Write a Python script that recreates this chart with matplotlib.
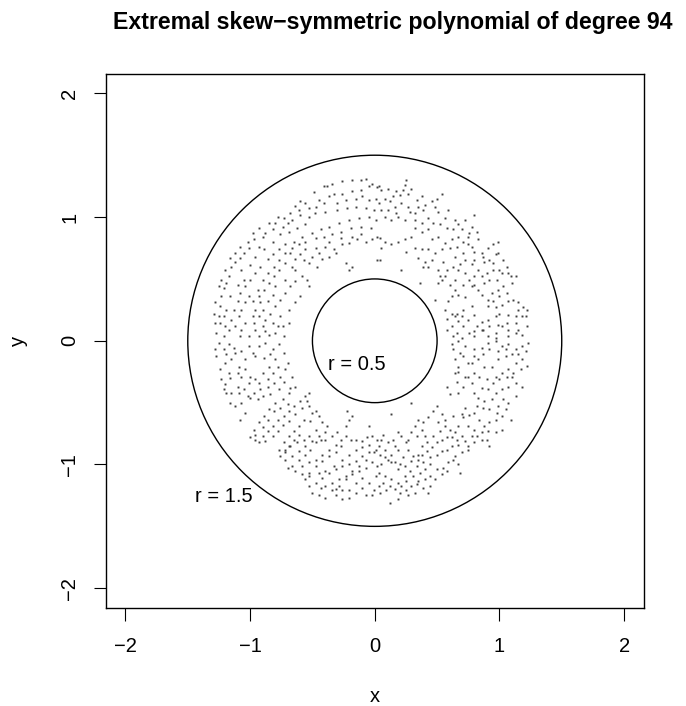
import numpy as np
import matplotlib
matplotlib.use("Agg")
import matplotlib.pyplot as plt
import matplotlib.patches as patches

plt.rcParams['font.family'] = ['Liberation Sans', 'DejaVu Sans']

# roots, one list per quadrant (x, y)
roots_nw = [
    (-0.41, 1.25), (-0.38, 1.25), (-0.34, 1.27), (-0.26, 1.29), (-0.18, 1.30), (-0.11, 1.30),
    (-0.07, 1.31), (-0.02, 1.27), (0.02, 1.24), (-0.33, 1.19), (-0.37, 1.17), (-0.45, 1.14),
    (-0.49, 1.20), (-0.56, 1.11), (-0.60, 1.13), (-0.64, 1.09), (-0.30, 1.11), (-0.23, 1.14),
    (-0.15, 1.15), (-0.10, 1.17), (-0.05, 1.14), (0.01, 1.15), (-0.22, 1.07), (-0.15, 1.08),
    (-0.07, 1.07), (-0.01, 1.06), (-0.30, 1.06), (-0.40, 1.04), (-0.48, 1.03), (-0.53, 1.00),
    (-0.60, 1.02), (-0.66, 0.98), (-0.70, 0.95), (-0.74, 0.92), (-0.80, 0.95), (-0.82, 0.90),
    (-0.88, 0.87), (-0.90, 0.84), (-0.97, 0.82), (-0.93, 0.76), (-1.01, 0.75), (-1.05, 0.71),
    (-1.08, 0.67), (-1.12, 0.64), (-1.15, 0.60), (-1.17, 0.52), (-1.19, 0.47), (-1.21, 0.43),
    (-1.23, 0.36), (-1.24, 0.28), (-1.25, 0.20), (-1.24, 0.14), (-1.27, 0.06), (-1.21, 0.04),
    (-1.17, 0.09), (-1.15, 0.17), (-1.13, 0.25), (-1.10, 0.32), (-1.08, 0.39), (-1.04, 0.44),
    (-1.00, 0.49), (-0.96, 0.55), (-0.92, 0.60), (-0.86, 0.66), (-0.82, 0.70), (-0.77, 0.74),
    (-0.72, 0.78), (-0.65, 0.80), (-0.58, 0.84), (-0.50, 0.87), (-0.43, 0.90), (-0.37, 0.92),
    (-0.29, 0.95), (-0.21, 0.98), (-0.13, 0.99), (-0.05, 1.00), (0.01, 0.98), (0.02, 0.84),
    (-0.02, 0.82), (-0.07, 0.80), (-0.14, 0.82), (-0.21, 0.79), (-0.26, 0.78), (-0.33, 0.74),
    (-0.40, 0.76), (-0.45, 0.71), (-0.50, 0.68), (-0.53, 0.63), (-0.46, 0.60), (-0.42, 0.66),
    (-0.37, 0.68), (-0.31, 0.71), (-0.23, 0.63), (-0.21, 0.57), (-0.18, 0.60), (-0.68, 0.71),
    (-0.64, 0.66), (-0.72, 0.63), (-0.77, 0.57), (-0.81, 0.52), (-0.85, 0.47), (-0.89, 0.41),
    (-0.93, 0.36), (-0.92, 0.31), (-0.96, 0.25), (-0.98, 0.20), (-1.04, 0.14), (-1.07, 0.09),
    (-1.08, 0.04), (-1.01, 0.04), (-0.96, 0.09), (-0.90, 0.12), (-0.88, 0.17), (-0.84, 0.22),
    (-0.80, 0.28), (-0.76, 0.33), (-0.72, 0.39), (-0.68, 0.44), (-0.64, 0.48), (-0.58, 0.52),
    (-0.54, 0.49), (-0.53, 0.44), (-0.76, 0.20), (-0.74, 0.12), (-0.73, 0.04), (-0.80, 0.06),
    (-0.85, 0.05), (-0.93, 0.04), (-1.01, 0.36), (-1.05, 0.49), (-1.10, 0.45), (-1.16, 0.36),
    (-1.19, 0.25), (-1.07, 0.57), (-1.00, 0.61), (-0.96, 0.68), (-0.89, 0.74), (-0.82, 0.80),
    (-0.76, 0.86), (-0.69, 0.88), (-0.62, 0.91), (-0.56, 0.94), (0.02, 0.65),
    (-0.05, 1.25), (-0.11, 1.22), (-0.18, 1.21), (-0.26, 1.19), (-0.41, 1.11), (-0.47, 1.08),
    (-0.53, 1.07), (-0.61, 1.06), (-0.68, 1.03), (-0.73, 0.99), (-0.78, 1.00), (-0.85, 0.95),
    (-0.93, 0.91), (-0.98, 0.87), (-1.02, 0.80), (-1.08, 0.76), (-1.12, 0.71), (-1.16, 0.67),
    (-1.20, 0.57), (-1.23, 0.49), (-1.25, 0.44), (-1.28, 0.31), (-1.29, 0.22), (-1.28, 0.14),
    (-1.21, 0.20), (-1.20, 0.12), (-1.12, 0.12), (-1.09, 0.20), (-1.07, 0.25), (-1.04, 0.31),
    (-0.98, 0.32), (-0.94, 0.41), (-0.90, 0.49), (-0.86, 0.55), (-0.81, 0.60), (-0.77, 0.65),
    (-0.72, 0.71), (-0.66, 0.75), (-0.61, 0.78), (-0.56, 0.80), (-0.47, 0.83), (-0.41, 0.84),
    (-0.34, 0.86), (-0.27, 0.88), (-0.19, 0.91), (-0.11, 0.92), (-0.03, 0.91), (-0.11, 0.86),
    (-0.18, 0.84), (-0.27, 0.83), (-0.37, 0.80), (-0.47, 0.75), (-0.56, 0.74), (-0.60, 0.70),
    (-0.57, 0.65), (-0.66, 0.60), (-0.64, 0.57), (-0.72, 0.49), (-0.80, 0.44), (-0.82, 0.37),
    (-0.86, 0.32), (-0.90, 0.25), (-0.93, 0.20), (-0.97, 0.14), (-0.82, 0.14), (-0.78, 0.12),
    (-0.88, 0.08), (-0.69, 0.14), (-0.69, 0.25), (-0.64, 0.31), (-0.60, 0.36),
]

roots_ne = [
    (0.03, 1.25), (0.05, 1.22), (0.11, 1.23), (0.15, 1.17), (0.20, 1.18), (0.24, 1.26),
    (0.25, 1.30), (0.27, 1.19), (0.21, 1.11), (0.16, 1.08), (0.11, 1.06), (0.05, 1.06),
    (0.03, 1.11), (0.08, 1.00), (0.13, 0.98), (0.19, 1.00), (0.24, 0.98), (0.28, 1.04),
    (0.32, 1.03), (0.35, 1.08), (0.40, 1.10), (0.38, 1.17), (0.43, 0.99), (0.48, 1.08),
    (0.51, 1.04), (0.54, 1.19), (0.56, 0.99), (0.59, 1.06), (0.64, 0.98), (0.70, 0.90),
    (0.78, 0.92), (0.80, 1.02), (0.75, 0.84), (0.67, 0.84), (0.62, 0.82), (0.56, 0.79),
    (0.51, 0.84), (0.46, 0.82), (0.43, 0.90), (0.38, 0.88), (0.32, 0.91), (0.29, 0.84),
    (0.24, 0.82), (0.19, 0.80), (0.13, 0.78), (0.08, 0.80), (0.04, 0.83), (0.05, 0.75),
    (0.25, 0.72), (0.32, 0.75), (0.38, 0.74), (0.43, 0.74), (0.48, 0.71), (0.35, 0.67),
    (0.40, 0.64), (0.46, 0.65), (0.39, 0.60), (0.43, 0.60), (0.54, 0.74), (0.64, 0.68),
    (0.71, 0.71), (0.78, 0.76), (0.83, 0.82), (0.86, 0.71), (0.91, 0.75), (0.95, 0.78),
    (0.99, 0.80), (0.97, 0.70), (0.95, 0.63), (0.88, 0.64), (0.80, 0.65), (0.78, 0.62),
    (0.83, 0.57), (0.86, 0.52), (0.80, 0.52), (0.72, 0.55), (0.67, 0.57), (0.58, 0.57),
    (0.52, 0.52), (0.51, 0.47), (0.54, 0.49), (0.60, 0.45), (0.64, 0.41), (0.62, 0.36),
    (0.59, 0.32), (0.67, 0.37), (0.72, 0.35), (0.78, 0.44), (0.83, 0.41), (0.88, 0.47),
    (0.92, 0.49), (0.98, 0.49), (1.02, 0.55), (1.07, 0.55), (1.13, 0.52), (1.10, 0.47),
    (1.03, 0.44), (0.99, 0.41), (0.94, 0.39), (0.91, 0.33), (0.95, 0.32), (1.00, 0.36),
    (1.06, 0.39), (1.11, 0.33), (1.15, 0.31), (1.19, 0.27), (1.22, 0.25), (1.18, 0.20),
    (1.13, 0.20), (1.07, 0.21), (1.00, 0.22), (0.97, 0.20), (0.91, 0.17), (0.86, 0.15),
    (0.80, 0.21), (0.78, 0.28), (0.71, 0.25), (0.66, 0.22), (0.67, 0.16), (0.62, 0.12),
    (0.66, 0.06), (0.71, 0.12), (0.76, 0.06), (0.80, 0.08), (0.86, 0.09), (0.91, 0.04),
    (0.97, 0.06), (1.02, 0.12), (1.07, 0.09), (1.13, 0.06), (1.18, 0.05), (1.22, 0.12),
    (0.64, 0.20), (0.56, 0.25), (0.48, 0.33), (0.36, 0.47), (0.21, 0.57), (0.04, 0.65),
    (0.08, 1.15), (0.12, 1.13), (0.17, 1.21), (0.23, 1.22), (0.29, 1.23), (0.34, 1.14),
    (0.39, 1.06), (0.46, 1.13), (0.50, 1.15), (0.17, 1.03), (0.27, 1.08), (0.32, 0.98),
    (0.38, 0.95), (0.47, 0.95), (0.52, 0.94), (0.58, 0.91), (0.63, 0.90), (0.67, 0.94),
    (0.72, 0.98), (0.76, 0.87), (0.82, 0.88), (0.60, 0.75), (0.66, 0.76), (0.71, 0.80),
    (0.75, 0.78), (0.80, 0.72), (0.87, 0.68), (0.92, 0.65), (0.99, 0.71), (1.03, 0.65),
    (1.06, 0.60), (1.09, 0.52), (0.90, 0.55), (0.95, 0.57), (1.00, 0.57), (0.72, 0.65),
    (0.68, 0.62), (0.63, 0.60), (0.55, 0.64), (0.51, 0.57), (0.56, 0.52), (0.64, 0.49),
    (0.71, 0.45), (0.76, 0.49), (0.80, 0.45), (0.86, 0.37), (0.91, 0.28), (0.97, 0.27),
    (1.02, 0.29), (1.07, 0.32), (1.15, 0.25), (1.21, 0.20), (1.13, 0.14), (1.06, 0.14),
    (0.99, 0.13), (0.92, 0.12), (0.87, 0.09), (0.82, 0.12), (0.75, 0.17), (0.70, 0.20),
    (0.62, 0.22), (0.58, 0.18), (0.58, 0.09), (0.63, 0.04), (0.70, 0.02), (0.80, 0.04),
    (0.97, 0.02), (1.07, 0.04), (1.15, 0.09),
]

roots_sw = [
    (-1.25, -0.02), (-1.21, -0.07), (-1.17, -0.03), (-1.12, -0.10), (-1.15, -0.15), (-1.20, -0.18),
    (-1.24, -0.23), (-1.23, -0.31), (-1.17, -0.26), (-1.09, -0.21), (-1.04, -0.15), (-0.98, -0.10),
    (-0.93, -0.04), (-0.88, -0.02), (-0.82, -0.07), (-0.77, -0.03), (-0.73, -0.10), (-0.80, -0.15),
    (-0.85, -0.21), (-0.90, -0.26), (-0.96, -0.31), (-1.01, -0.34), (-1.07, -0.29), (-1.10, -0.37),
    (-1.15, -0.42), (-1.16, -0.50), (-1.12, -0.53), (-1.07, -0.50), (-1.02, -0.45), (-0.97, -0.42),
    (-0.92, -0.39), (-0.86, -0.37), (-0.81, -0.34), (-0.76, -0.29), (-0.72, -0.23), (-0.70, -0.18),
    (-0.66, -0.29), (-0.64, -0.37), (-0.69, -0.42), (-0.74, -0.47), (-0.80, -0.50), (-0.85, -0.55),
    (-0.89, -0.61), (-0.93, -0.66), (-0.97, -0.72), (-1.00, -0.78), (-0.96, -0.80), (-0.90, -0.77),
    (-0.86, -0.73), (-0.82, -0.69), (-0.78, -0.64), (-0.73, -0.61), (-0.69, -0.57), (-0.65, -0.53),
    (-0.60, -0.49), (-0.56, -0.45), (-0.53, -0.42), (-0.53, -0.53), (-0.50, -0.58), (-0.47, -0.57),
    (-0.45, -0.61), (-0.52, -0.65), (-0.57, -0.64), (-0.61, -0.69), (-0.65, -0.73), (-0.69, -0.77),
    (-0.73, -0.82), (-0.77, -0.88), (-0.76, -0.93), (-0.72, -0.90), (-0.68, -0.85), (-0.62, -0.82),
    (-0.57, -0.80), (-0.53, -0.77), (-0.47, -0.72), (-0.42, -0.66), (-0.38, -0.69), (-0.40, -0.74),
    (-0.43, -0.80), (-0.47, -0.82), (-0.52, -0.88), (-0.56, -0.92), (-0.61, -0.96), (-0.66, -1.01),
    (-0.70, -1.03), (-0.64, -1.05), (-0.58, -1.01), (-0.53, -0.98), (-0.47, -0.96), (-0.42, -0.92),
    (-0.37, -0.88), (-0.31, -0.84), (-0.27, -0.80), (-0.23, -0.77), (-0.19, -0.80), (-0.15, -0.80),
    (-0.10, -0.81), (-0.06, -0.78), (-0.02, -0.77), (0.02, -0.80), (0.01, -0.88), (-0.05, -0.90),
    (-0.10, -0.93), (-0.15, -0.97), (-0.21, -1.00), (-0.26, -1.01), (-0.31, -1.04), (-0.37, -1.07),
    (-0.42, -1.11), (-0.47, -1.15), (-0.53, -1.17), (-0.50, -1.23), (-0.45, -1.25), (-0.40, -1.27),
    (-0.34, -1.21), (-0.29, -1.17), (-0.23, -1.12), (-0.18, -1.08), (-0.13, -1.05), (-0.07, -1.03),
    (-0.02, -0.98), (0.02, -1.01), (0.01, -1.09), (-0.05, -1.15), (-0.10, -1.19), (-0.15, -1.23),
    (-0.21, -1.27), (-0.26, -1.28), (-0.31, -1.25), (-0.01, -1.21), (-0.02, -1.25), (-0.22, -0.57),
    (-0.21, -0.64), (-0.23, -0.69), (-0.18, -0.61), (-0.05, -0.69), (-1.04, -0.58), (-1.08, -0.64),
    (-1.28, -0.07), (-1.27, -0.12), (-1.19, -0.11), (-1.13, -0.06), (-1.07, -0.08), (-1.01, -0.04),
    (-0.96, -0.12), (-0.89, -0.14), (-0.84, -0.11), (-0.78, -0.21), (-0.82, -0.26), (-0.86, -0.31),
    (-0.93, -0.34), (-1.00, -0.29), (-1.04, -0.23), (-1.10, -0.26), (-1.16, -0.30), (-1.20, -0.35),
    (-1.19, -0.42), (-1.21, -0.39), (-1.09, -0.42), (-1.05, -0.39), (-1.00, -0.46), (-0.94, -0.47),
    (-0.90, -0.45), (-0.84, -0.43), (-0.77, -0.39), (-0.73, -0.33), (-0.68, -0.38), (-0.70, -0.51),
    (-0.76, -0.54), (-0.81, -0.57), (-0.86, -0.64), (-0.90, -0.70), (-0.96, -0.76), (-0.93, -0.82),
    (-0.88, -0.81), (-0.82, -0.77), (-0.78, -0.73), (-0.74, -0.68), (-0.69, -0.65), (-0.64, -0.59),
    (-0.58, -0.54), (-0.54, -0.49), (-0.61, -0.76), (-0.65, -0.80), (-0.69, -0.85), (-0.72, -0.88),
    (-0.72, -0.96), (-0.66, -0.93), (-0.61, -0.89), (-0.56, -0.85), (-0.50, -0.81), (-0.45, -0.77),
    (-0.40, -0.80), (-0.34, -0.77), (-0.30, -0.74), (-0.27, -0.85), (-0.31, -0.90), (-0.37, -0.93),
    (-0.42, -0.97), (-0.47, -1.01), (-0.53, -1.07), (-0.58, -1.08), (-0.56, -1.12), (-0.45, -1.07),
    (-0.40, -1.05), (-0.33, -1.01), (-0.26, -0.96), (-0.21, -0.92), (-0.15, -0.88), (-0.10, -0.86),
    (-0.05, -0.84), (-0.01, -0.90), (-0.07, -0.96), (-0.13, -1.01), (-0.18, -1.05), (-0.23, -1.09),
    (-0.29, -1.12), (-0.34, -1.15), (-0.40, -1.17), (-0.43, -1.19), (-0.10, -1.11), (-0.15, -1.15),
    (-0.21, -1.21), (-0.07, -1.25), (-0.26, -1.21), (-0.31, -1.20), (-0.53, -1.09),
]

roots_se = [
    (0.62, -0.03), (0.67, 0.00), (0.72, -0.04), (0.68, -0.10), (0.64, -0.15), (0.67, -0.21),
    (0.64, -0.26), (0.66, -0.33), (0.72, -0.29), (0.80, -0.07), (0.86, -0.06), (0.91, -0.02),
    (0.97, 0.00), (1.02, -0.04), (1.07, -0.03), (1.13, -0.07), (1.18, -0.04), (1.23, -0.02),
    (1.18, -0.15), (1.13, -0.18), (1.07, -0.23), (1.02, -0.26), (0.97, -0.29), (0.94, -0.21),
    (0.99, -0.15), (1.05, -0.12), (1.10, -0.29), (1.13, -0.34), (1.18, -0.37), (1.07, -0.37),
    (1.02, -0.39), (0.97, -0.42), (0.91, -0.39), (0.86, -0.38), (0.80, -0.42), (0.75, -0.29),
    (0.78, -0.18), (0.83, -0.15), (0.88, -0.21), (0.58, -0.37), (0.60, -0.43), (0.67, -0.42),
    (0.83, -0.46), (0.88, -0.49), (0.94, -0.47), (0.99, -0.53), (1.05, -0.55), (1.09, -0.64),
    (1.02, -0.61), (0.97, -0.64), (0.92, -0.66), (0.88, -0.69), (0.84, -0.64), (0.80, -0.58),
    (0.76, -0.60), (0.72, -0.54), (0.71, -0.62), (0.67, -0.69), (0.64, -0.74), (0.60, -0.72),
    (0.56, -0.69), (0.52, -0.73), (0.54, -0.59), (0.50, -0.53), (0.47, -0.57), (0.43, -0.62),
    (0.39, -0.66), (0.35, -0.64), (0.32, -0.69), (0.29, -0.74), (0.34, -0.77), (0.38, -0.72),
    (0.40, -0.77), (0.42, -0.82), (0.38, -0.85), (0.35, -0.92), (0.31, -0.93), (0.27, -0.88),
    (0.25, -0.82), (0.21, -0.77), (0.19, -0.74), (0.15, -0.80), (0.11, -0.82), (0.05, -0.80),
    (0.03, -0.85), (0.08, -0.88), (0.13, -0.92), (0.19, -0.88), (0.23, -0.94), (0.20, -1.00),
    (0.16, -0.98), (0.11, -0.96), (0.05, -1.00), (0.03, -1.07), (0.08, -1.09), (0.13, -1.12),
    (0.19, -1.15), (0.24, -1.09), (0.28, -1.05), (0.34, -1.01), (0.39, -0.98), (0.44, -0.94),
    (0.50, -0.92), (0.54, -0.89), (0.58, -0.88), (0.62, -0.85), (0.67, -0.84), (0.72, -0.81),
    (0.78, -0.77), (0.82, -0.77), (0.86, -0.74), (0.90, -0.80), (0.92, -0.85), (0.70, -0.90),
    (0.75, -0.88), (0.64, -0.93), (0.59, -0.98), (0.55, -1.03), (0.50, -1.04), (0.44, -1.09),
    (0.40, -1.12), (0.35, -1.13), (0.29, -1.17), (0.25, -1.21), (0.20, -1.23), (0.12, -1.31),
    (0.09, -1.21), (0.04, -1.23), (0.68, -1.07), (0.44, -1.17), (0.34, -1.16), (0.43, -1.23),
    (0.29, -0.50), (0.13, -0.59), (1.13, -0.45),
    (0.63, -0.07), (0.71, -0.12), (0.67, -0.25), (0.75, -0.18), (0.80, -0.12), (0.87, -0.11),
    (0.92, -0.07), (0.99, -0.08), (1.05, -0.07), (1.10, -0.11), (1.15, -0.11), (1.21, -0.08),
    (1.22, -0.20), (1.17, -0.23), (1.11, -0.26), (1.06, -0.29), (1.00, -0.31), (0.95, -0.34),
    (0.90, -0.31), (0.84, -0.29), (0.80, -0.26), (0.71, -0.37), (0.78, -0.34), (0.82, -0.53),
    (0.87, -0.54), (0.92, -0.55), (0.98, -0.58), (1.03, -0.47), (1.07, -0.50), (1.02, -0.72),
    (0.97, -0.74), (0.91, -0.73), (0.86, -0.80), (0.80, -0.82), (0.75, -0.85), (0.70, -0.77),
    (0.66, -0.80), (0.62, -0.78), (0.58, -0.78), (0.54, -0.80), (0.50, -0.82), (0.46, -0.86),
    (0.42, -0.89), (0.44, -1.00), (0.40, -1.04), (0.36, -1.07), (0.31, -1.09), (0.25, -1.13),
    (0.21, -1.17), (0.16, -1.20), (0.12, -1.17), (0.07, -1.15), (0.03, -1.17), (0.04, -0.92),
    (0.08, -0.94), (0.13, -0.98), (0.19, -1.04), (0.24, -1.01), (0.29, -0.97), (0.35, -0.96),
    (0.38, -0.92), (0.47, -0.77), (0.51, -0.66), (0.56, -0.64), (0.63, -0.61), (0.70, -0.59),
    (0.75, -0.69), (0.80, -0.72), (0.27, -0.80), (0.16, -0.85), (0.07, -0.76), (0.54, -1.08),
    (0.48, -1.12), (0.39, -1.19), (0.32, -1.23), (0.27, -1.25), (0.19, -1.28), (0.63, -0.96),
    (0.67, -1.00), (0.58, -1.05),
]

radii = [0.5, 1.5]
radius_labels = ["r = 0.5", "r = 1.5"]
label_pos = [(-0.14, -0.19), (-1.21, -1.26)]
ticks = [-2, -1, 0, 1, 2]

pts = np.array(roots_nw + roots_ne + roots_sw + roots_se)

fig = plt.figure(figsize=(6.86, 7.06), dpi=100)
ax = fig.add_axes([0.1538, 0.1388, 0.785, 0.757])

ax.plot(pts[:, 0], pts[:, 1], linestyle='none', marker='s', markersize=1.4,
        markeredgewidth=0, color='#404040')

for r in radii:
    ax.add_patch(patches.Circle((0, 0), r, fill=False, lw=1.0, color='black'))

for lab, (lx, ly) in zip(radius_labels, label_pos):
    ax.text(lx, ly, lab, fontsize=14.5, ha='center', va='center')

ax.set_xlim(-2.16, 2.16)
ax.set_ylim(-2.16, 2.16)
ax.set_xticks(ticks)
ax.set_yticks(ticks)
ax.tick_params(axis='both', length=9, width=0.8, labelsize=14.5)
ax.tick_params(axis='x', pad=12)
ax.tick_params(axis='y', pad=10)
for lab in ax.get_yticklabels():
    lab.set_rotation(90)
    lab.set_va('center')
for s in ax.spines.values():
    s.set_linewidth(1.0)

fig.text(375 / 686, 1 - 697 / 706, 'x', fontsize=14.5, ha='center', va='center')
fig.text(18 / 686, 1 - 341 / 706, 'y', fontsize=14.5, ha='center', va='center', rotation=90)
fig.text(393 / 686, 1 - 29 / 706, 'Extremal skew\u2212symmetric polynomial of degree 94',
         fontsize=16.7, fontweight='bold', ha='center', va='baseline')

fig.savefig('out.png', dpi=100)
